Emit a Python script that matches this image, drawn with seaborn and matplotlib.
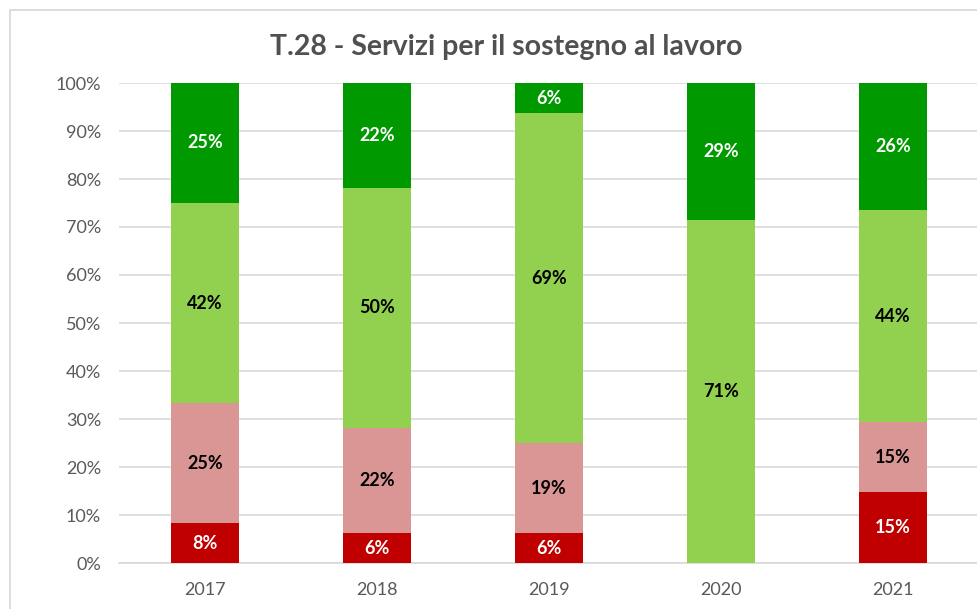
import numpy as np
import pandas as pd
import matplotlib.pyplot as plt
import seaborn as sns
from matplotlib.patches import Rectangle

# Data (shares per year)
years = ['2017', '2018', '2019', '2020', '2021']
red_share = [0.0833, 0.0625, 0.0625, 0.0, 0.147]
pink_share = [0.25, 0.219, 0.1875, 0.0, 0.147]
lightgreen_share = [0.4167, 0.50, 0.6875, 0.714, 0.441]
darkgreen_share = [0.25, 0.219, 0.0625, 0.286, 0.265]

series = [
    (red_share, '#C00000', 'white'),
    (pink_share, '#DA9694', 'black'),
    (lightgreen_share, '#92D050', 'black'),
    (darkgreen_share, '#009900', 'white'),
]

sns.set_style('white')
plt.rcParams['font.family'] = ['Lato', 'DejaVu Sans']

fig = plt.figure(figsize=(9.78, 6.09), dpi=100)
ax = fig.add_axes([119 / 978, 46 / 609, 860 / 978, 480 / 609])

# chart border (Excel chart area)
fig.patches.append(Rectangle((10 / 978, -0.1), 1.2, (609 - 10) / 609 + 0.1,
                             transform=fig.transFigure, fill=False,
                             edgecolor='#d9d9d9', linewidth=1.3))

bottom = np.zeros(len(years))
for values, color, txt_color in series:
    vals = np.array(values)
    sns.barplot(x=years, y=vals, bottom=bottom, color=color, width=0.395,
                ax=ax, saturation=1, zorder=3, linewidth=0)
    cont = ax.containers[-1]
    labels = [f'{v * 100:.0f}%' if v > 0 else '' for v in vals]
    ax.bar_label(cont, labels=labels, label_type='center', color=txt_color,
                 fontsize=13, fontweight='bold')
    bottom = bottom + vals

ax.set_ylim(0, 1)
ax.set_xlim(-0.5, 4.5)
ax.set_yticks(np.arange(0, 1.01, 0.1))
ax.set_yticklabels([f'{int(round(t * 100))}%' for t in np.arange(0, 1.01, 0.1)])
ax.yaxis.grid(True, color='#d9d9d9', linewidth=1.2, zorder=0)
ax.set_axisbelow(True)
for s in ['top', 'right', 'left']:
    ax.spines[s].set_visible(False)
ax.spines['bottom'].set_color('#d9d9d9')
ax.spines['bottom'].set_linewidth(1.2)
ax.tick_params(axis='both', length=0, labelsize=13, colors='#595959')
ax.tick_params(axis='y', pad=13)
ax.tick_params(axis='x', pad=14)
ax.set_xlabel('')
ax.set_ylabel('')

fig.text(506 / 978, 1 - 47 / 609, 'T.28 - Servizi per il sostegno al lavoro',
         ha='center', va='center', fontsize=20.5, fontweight='bold',
         color='#505050')

fig.savefig('out.png', dpi=100)
